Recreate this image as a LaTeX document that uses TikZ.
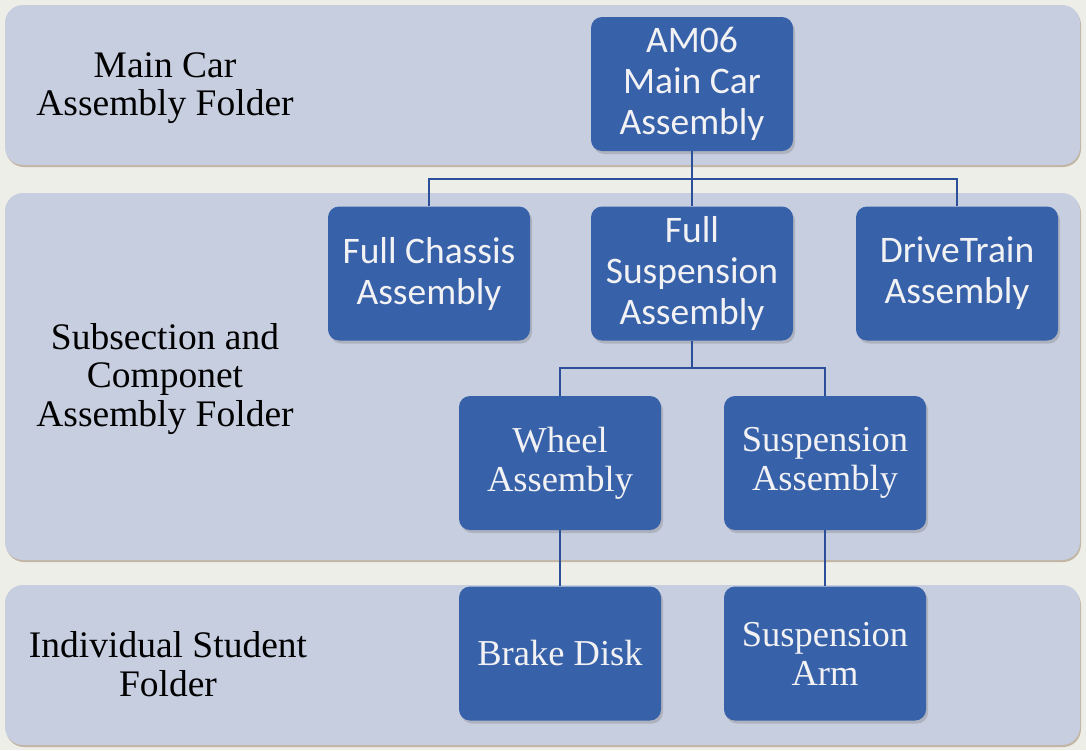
\documentclass[tikz,border=0pt]{standalone}
\usepackage{fontspec}
\setmainfont{Liberation Serif}
\newfontfamily\boxsans{Carlito}
\usetikzlibrary{shadows}
\definecolor{pagebg}{HTML}{EEEEE8}
\definecolor{bandfill}{HTML}{C6CEE0}
\definecolor{boxblue}{HTML}{3761A9}
\definecolor{boxtext}{HTML}{F2F2F4}
\definecolor{linkblue}{HTML}{2B4F98}
\tikzset{
  band/.style={fill=bandfill, rounded corners=18pt,
    drop shadow={shadow xshift=1pt, shadow yshift=-2pt, opacity=0.35, fill=brown!60!black}},
  unit/.style={draw=none, fill=boxblue, rounded corners=11pt,
    minimum width=202pt, minimum height=134pt, align=center,
    text=boxtext, inner sep=2pt,
    drop shadow={shadow xshift=2pt, shadow yshift=-3pt, opacity=0.35}},
  sansunit/.style={unit, font=\boxsans\fontsize{37.5}{41}\selectfont},
  serifunit/.style={unit, font=\fontsize{36.5}{39}\selectfont},
  level/.style={align=center, text=black, font=\fontsize{37.5}{38.5}\selectfont},
  link/.style={draw=linkblue, line width=1.6pt}
}
\begin{document}
\begin{tikzpicture}[x=1pt,y=1pt]
  \fill[pagebg] (0,0) rectangle (1086,-750);
  \useasboundingbox (0,0) rectangle (1086,-750);

  % three folder bands
  \path[band] (5,-5) rectangle (1080,-165);
  \path[band] (5,-193) rectangle (1080,-560);
  \path[band] (5,-585) rectangle (1080,-745);

  \node[level] (lvlmain) at (165,-88) {Main Car\\Assembly Folder};
  \node[level] (lvlsub) at (165,-379) {Subsection and\\Componet\\Assembly Folder};
  \node[level] (lvlind) at (168,-664) {Individual Student\\Folder};

  % junction points of the tree
  \coordinate (j1) at (692,-179);
  \coordinate (j2) at (692,-368);

  % assemblies
  \node[sansunit] (am) at (692,-84) {AM06\\Main Car\\Assembly};
  \node[sansunit] (chassis) at (429,-273.5) {Full Chassis\\Assembly};
  \node[sansunit] (fullsusp) at (692,-273.5) {Full\\Suspension\\Assembly};
  \node[sansunit] (drive) at (957,-273.5) {DriveTrain\\Assembly};
  \node[serifunit] (wheel) at (560,-463) {Wheel\\Assembly};
  \node[serifunit] (susp) at (825,-463) {Suspension\\Assembly};
  \node[serifunit] (brake) at (560,-653.5) {Brake Disk};
  \node[serifunit] (arm) at (825,-653.5) {Suspension\\Arm};

  % connectors
  \draw[link] (am.south) -- (j1);
  \draw[link] (j1) -| (chassis.north);
  \draw[link] (j1) -| (drive.north);
  \draw[link] (j1) -- (fullsusp.north);
  \draw[link] (fullsusp.south) -- (j2);
  \draw[link] (j2) -| (wheel.north);
  \draw[link] (j2) -| (susp.north);
  \draw[link] (wheel.south) -- (brake.north);
  \draw[link] (susp.south) -- (arm.north);
\end{tikzpicture}
\end{document}
